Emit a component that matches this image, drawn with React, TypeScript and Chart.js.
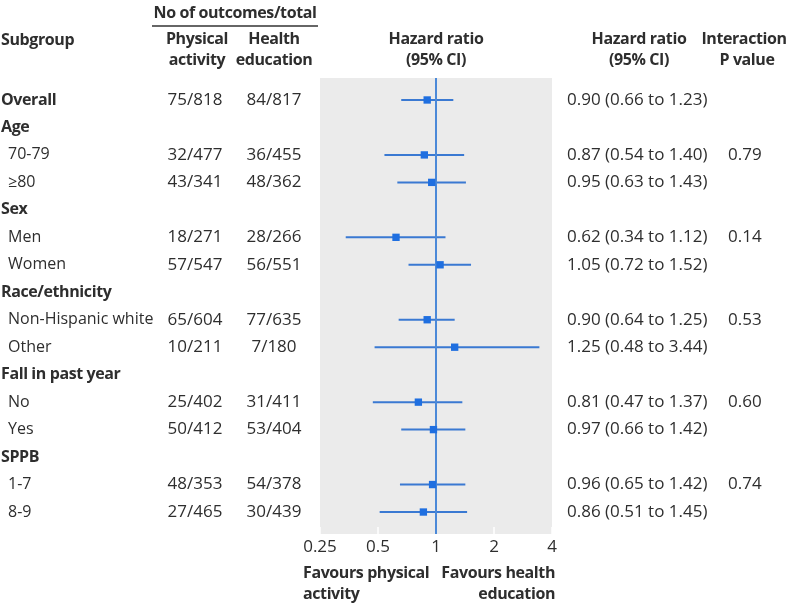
import React, { useEffect, useRef } from "react";
import { Chart, registerables } from "chart.js";

Chart.register(...registerables);

// ---- data ----
const rowLabels = [
  "Overall", "Age", "70-79", "≥80", "Sex", "Men", "Women", "Race/ethnicity",
  "Non-Hispanic white", "Other", "Fall in past year", "No", "Yes", "SPPB", "1-7", "8-9",
];
const rowIsHeading = [true, true, false, false, true, false, false, true, false, false, true, false, false, true, false, false];
const physicalActivity = ["75/818", "", "32/477", "43/341", "", "18/271", "57/547", "", "65/604", "10/211", "", "25/402", "50/412", "", "48/353", "27/465"];
const healthEducation = ["84/817", "", "36/455", "48/362", "", "28/266", "56/551", "", "77/635", "7/180", "", "31/411", "53/404", "", "54/378", "30/439"];
const hazardRatio: (number | null)[] = [0.90, null, 0.87, 0.95, null, 0.62, 1.05, null, 0.90, 1.25, null, 0.81, 0.97, null, 0.96, 0.86];
const ciLow: (number | null)[] = [0.66, null, 0.54, 0.63, null, 0.34, 0.72, null, 0.64, 0.48, null, 0.47, 0.66, null, 0.65, 0.51];
const ciHigh: (number | null)[] = [1.23, null, 1.40, 1.43, null, 1.12, 1.52, null, 1.25, 3.44, null, 1.37, 1.42, null, 1.42, 1.45];
const interactionP = ["", "", "0.79", "", "", "0.14", "", "", "0.53", "", "", "0.60", "", "", "0.74", ""];
const xTicks = [0.25, 0.5, 1, 2, 4];
const xTickLabels = ["0.25", "0.5", "1", "2", "4"];

const FONT = '"Open Sans", "Noto Sans", sans-serif';
const TEXT = "#2e2e2e";
const LINE_BLUE = "#3a79d2";
const MARK_BLUE = "#1f6fe0";
const REF_BLUE = "#4b89d8";

function fmt(v: number) {
  return v.toFixed(2);
}

type Kind = "bold" | "label" | "num";

const tablePlugin = {
  id: "forestTable",
  beforeDatasetsDraw(chart: any) {
    const { ctx, chartArea: a } = chart;
    ctx.save();
    ctx.fillStyle = "#ebebeb";
    ctx.fillRect(a.left, a.top, a.right - a.left, a.bottom - a.top);
    const xs = chart.scales.x;
    ctx.strokeStyle = "#ffffff";
    ctx.lineWidth = 1.5;
    xTicks.forEach((v) => {
      const x = xs.getPixelForValue(v);
      ctx.beginPath();
      ctx.moveTo(x, a.bottom - 7);
      ctx.lineTo(x, a.bottom);
      ctx.stroke();
    });
    ctx.restore();
  },
  afterDraw(chart: any) {
    const { ctx } = chart;
    const ys = chart.scales.y;
    const put = (s: string, x: number, y: number, align: CanvasTextAlign, kind: Kind) => {
      ctx.font = kind === "bold" ? `bold 16px ${FONT}` : kind === "num" ? `17px ${FONT}` : `16px ${FONT}`;
      (ctx as any).letterSpacing = kind === "bold" ? "-0.4px" : "0px";
      ctx.textAlign = align;
      ctx.textBaseline = "middle";
      ctx.fillStyle = TEXT;
      ctx.fillText(s, x, y);
    };
    ctx.save();
    // headers
    put("No of outcomes/total", 235, 13, "center", "bold");
    ctx.strokeStyle = "#333333";
    ctx.lineWidth = 1.5;
    ctx.beginPath();
    ctx.moveTo(152, 26);
    ctx.lineTo(318, 26);
    ctx.stroke();
    put("Subgroup", 1, 40, "left", "bold");
    put("Physical", 197, 39, "center", "bold");
    put("activity", 197, 60, "center", "bold");
    put("Health", 274, 39, "center", "bold");
    put("education", 274, 60, "center", "bold");
    const xc = chart.scales.x.getPixelForValue(1);
    put("Hazard ratio", xc, 39, "center", "bold");
    put("(95% CI)", xc, 60, "center", "bold");
    put("Hazard ratio", 639, 39, "center", "bold");
    put("(95% CI)", 639, 60, "center", "bold");
    put("Interaction", 744, 39, "center", "bold");
    put("P value", 747, 60, "center", "bold");
    // rows
    rowLabels.forEach((lab, i) => {
      const y = ys.getPixelForValue(i);
      put(lab, rowIsHeading[i] ? 1 : 8, y, "left", rowIsHeading[i] ? "bold" : "label");
      if (physicalActivity[i]) put(physicalActivity[i], 195, y, "center", "num");
      if (healthEducation[i]) put(healthEducation[i], 274, y, "center", "num");
      const h = hazardRatio[i], lo = ciLow[i], hi = ciHigh[i];
      if (h != null && lo != null && hi != null) {
        put(`${fmt(h)} (${fmt(lo)} to ${fmt(hi)})`, 567, y, "left", "num");
      }
      if (interactionP[i]) put(interactionP[i], 728, y, "left", "num");
    });
    // footer
    put("Favours physical", 303, 573, "left", "bold");
    put("activity", 303, 594, "left", "bold");
    put("Favours health", 555, 573, "right", "bold");
    put("education", 555, 594, "right", "bold");
    ctx.restore();
  },
};

export default function App() {
  const ref = useRef<HTMLCanvasElement | null>(null);
  useEffect(() => {
    if (!ref.current) return;
    const yMin = -0.8;
    const yMax = rowLabels.length - 1 + 0.8;
    const errorSets: any[] = [];
    rowLabels.forEach((_, i) => {
      const lo = ciLow[i], hi = ciHigh[i];
      if (lo == null || hi == null) return;
      errorSets.push({
        type: "line",
        data: [{ x: lo, y: i }, { x: hi, y: i }],
        borderColor: LINE_BLUE,
        borderWidth: 2,
        pointRadius: 0,
        order: 3,
      });
    });
    const markers = rowLabels
      .map((_, i) => (hazardRatio[i] != null ? { x: hazardRatio[i] as number, y: i } : null))
      .filter((p) => p != null);
    const chart = new Chart(ref.current, {
      type: "scatter",
      data: {
        datasets: [
          {
            type: "scatter",
            data: markers as any,
            pointStyle: "rect",
            pointRadius: 5.2,
            backgroundColor: MARK_BLUE,
            borderWidth: 0,
            order: 0,
          } as any,
          {
            type: "line",
            data: [{ x: 1, y: yMin }, { x: 1, y: yMax }],
            borderColor: REF_BLUE,
            borderWidth: 2,
            pointRadius: 0,
            order: 1,
          } as any,
          ...errorSets,
        ],
      },
      options: {
        animation: false,
        responsive: true,
        maintainAspectRatio: false,
        layout: { padding: { left: 320, right: 235, top: 78, bottom: 41 } },
        plugins: { legend: { display: false }, tooltip: { enabled: false } },
        events: [],
        scales: {
          x: {
            type: "logarithmic",
            min: 0.25,
            max: 4,
            border: { display: false },
            grid: { display: false, drawTicks: false },
            afterBuildTicks: (scale: any) => {
              scale.ticks = xTicks.map((v) => ({ value: v }));
            },
            afterFit: (scale: any) => {
              scale.height = 30;
            },
            ticks: {
              autoSkip: false,
              maxRotation: 0,
              padding: 3,
              color: TEXT,
              font: { family: FONT, size: 17 },
              callback: (v: any) => {
                const idx = xTicks.indexOf(Number(v));
                return idx >= 0 ? xTickLabels[idx] : "";
              },
            },
          },
          y: {
            type: "linear",
            display: false,
            reverse: true,
            min: yMin,
            max: yMax,
          },
        },
      },
      plugins: [tablePlugin],
    });
    return () => chart.destroy();
  }, []);
  return (
    <div style={{ position: "fixed", left: 0, top: 0, width: 787, height: 605, background: "#fff" }}>
      <canvas ref={ref} />
    </div>
  );
}
